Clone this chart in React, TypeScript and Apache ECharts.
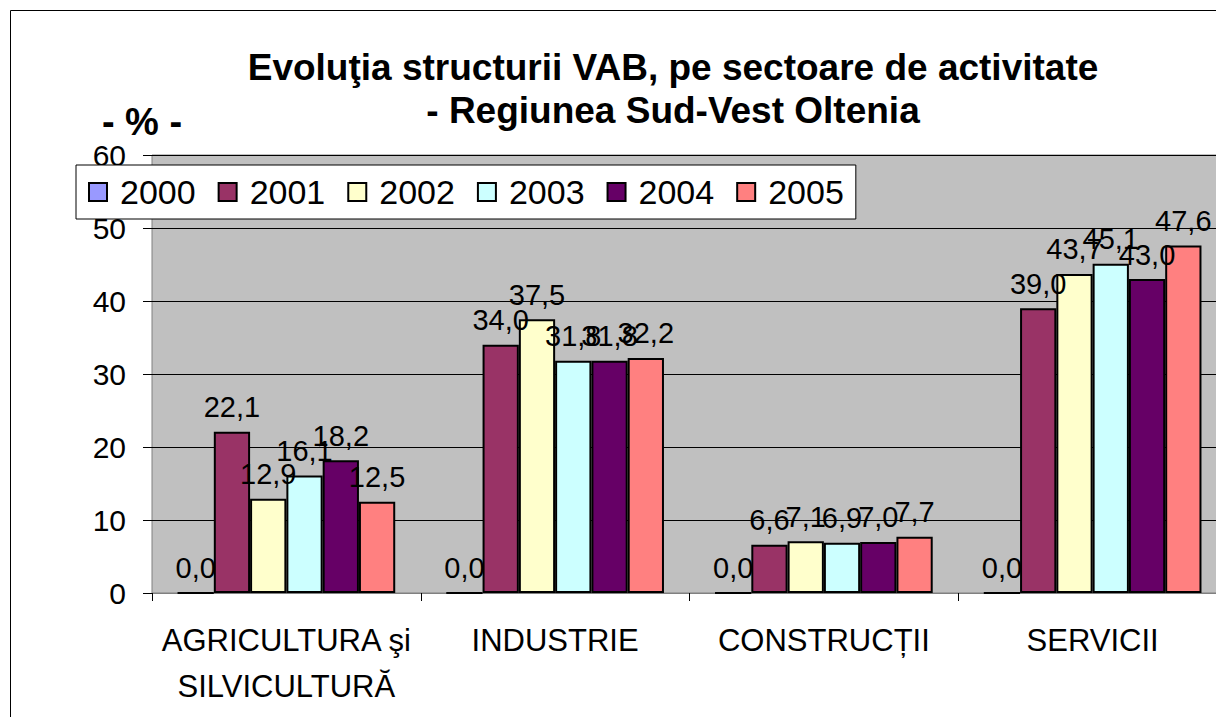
import React, { useEffect, useRef } from "react";
import * as echarts from "echarts";

const categories = ["AGRICULTURA şi\nSILVICULTURĂ", "INDUSTRIE", "CONSTRUCȚII", "SERVICII"];
const years = ["2000", "2001", "2002", "2003", "2004", "2005"];
const v2000 = [0, 0, 0, 0];
const v2001 = [22.1, 34.0, 6.6, 39.0];
const v2002 = [12.9, 37.5, 7.1, 43.7];
const v2003 = [16.1, 31.8, 6.9, 45.1];
const v2004 = [18.2, 31.8, 7.0, 43.0];
const v2005 = [12.5, 32.2, 7.7, 47.6];
const seriesValues = [v2000, v2001, v2002, v2003, v2004, v2005];
const colors = ["#9999FF", "#993366", "#FFFFCC", "#CCFFFF", "#660066", "#FF8080"];
const yTicks = [0, 10, 20, 30, 40, 50, 60];

const FONT = "'Liberation Sans', Arial, sans-serif";

export default function App() {
  const ref = useRef<HTMLDivElement>(null);
  useEffect(() => {
    document.body.style.margin = "0";
    document.body.style.overflow = "hidden";
    const chart = echarts.init(ref.current!, null, { renderer: "svg" });
    chart.setOption({
      animation: false,
      backgroundColor: "#FFFFFF",
      textStyle: { fontFamily: FONT, color: "#000" },
      title: {
        text: "Evoluţia structurii VAB, pe sectoare de activitate\n- Regiunea Sud-Vest Oltenia",
        left: 668,
        top: 41,
        textAlign: "center",
        textStyle: { fontFamily: FONT, fontWeight: "bold", fontSize: 37, lineHeight: 43, color: "#000" },
      },
      graphic: [
        {
          type: "rect",
          shape: { x: 10.5, y: 10.5, width: 1240, height: 740 },
          style: { fill: "none", stroke: "#000", lineWidth: 1 },
          silent: true,
        },
        {
          type: "text",
          x: 142,
          y: 122,
          style: {
            text: "- % -",
            fontFamily: FONT,
            fontWeight: "bold",
            fontSize: 38,
            fill: "#000",
            textAlign: "center",
            textVerticalAlign: "middle",
          },
        },
      ],
      legend: {
        left: 76,
        top: 165,
        data: years,
        backgroundColor: "#FFFFFF",
        borderColor: "#000",
        borderWidth: 1,
        padding: [10, 12, 10, 12],
        itemWidth: 18,
        itemHeight: 18,
        itemGap: 22,
        icon: "rect",
        textStyle: { fontFamily: FONT, fontSize: 34, color: "#000", padding: [0, 0, 0, 8] },
        z: 10,
      },
      grid: {
        left: 152,
        top: 155,
        right: 13,
        bottom: 147,
        show: true,
        backgroundColor: "#C0C0C0",
        borderColor: "#808080",
        borderWidth: 1,
      },
      xAxis: {
        type: "category",
        data: categories,
        axisLine: { show: true, lineStyle: { color: "#808080" } },
        axisTick: { show: true, length: 8, lineStyle: { color: "#000" } },
        axisLabel: {
          interval: 0,
          fontFamily: FONT,
          fontSize: 31,
          color: "#000",
          lineHeight: 46,
          margin: 24,
        },
      },
      yAxis: {
        type: "value",
        min: yTicks[0],
        max: yTicks[yTicks.length - 1],
        interval: 10,
        axisLine: { show: false },
        axisTick: { show: true, length: 9, lineStyle: { color: "#000" } },
        splitLine: { show: true, lineStyle: { color: "#000", width: 1 } },
        axisLabel: { fontFamily: FONT, fontSize: 30, color: "#000", margin: 26 },
      },
      series: years.map((y, i) => ({
        name: y,
        type: "bar",
        data: seriesValues[i],
        barGap: "0%",
        barCategoryGap: "19%",
        itemStyle: { color: colors[i], borderColor: "#000", borderWidth: 2 },
        label: {
          show: true,
          position: "top",
          distance: 10,
          fontFamily: FONT,
          fontSize: 29,
          color: "#000",
          formatter: (p: any) => Number(p.value).toFixed(1).replace(".", ","),
        },
      })),
    });
    return () => chart.dispose();
  }, []);
  return <div ref={ref} style={{ width: 1240, height: 740 }} />;
}
